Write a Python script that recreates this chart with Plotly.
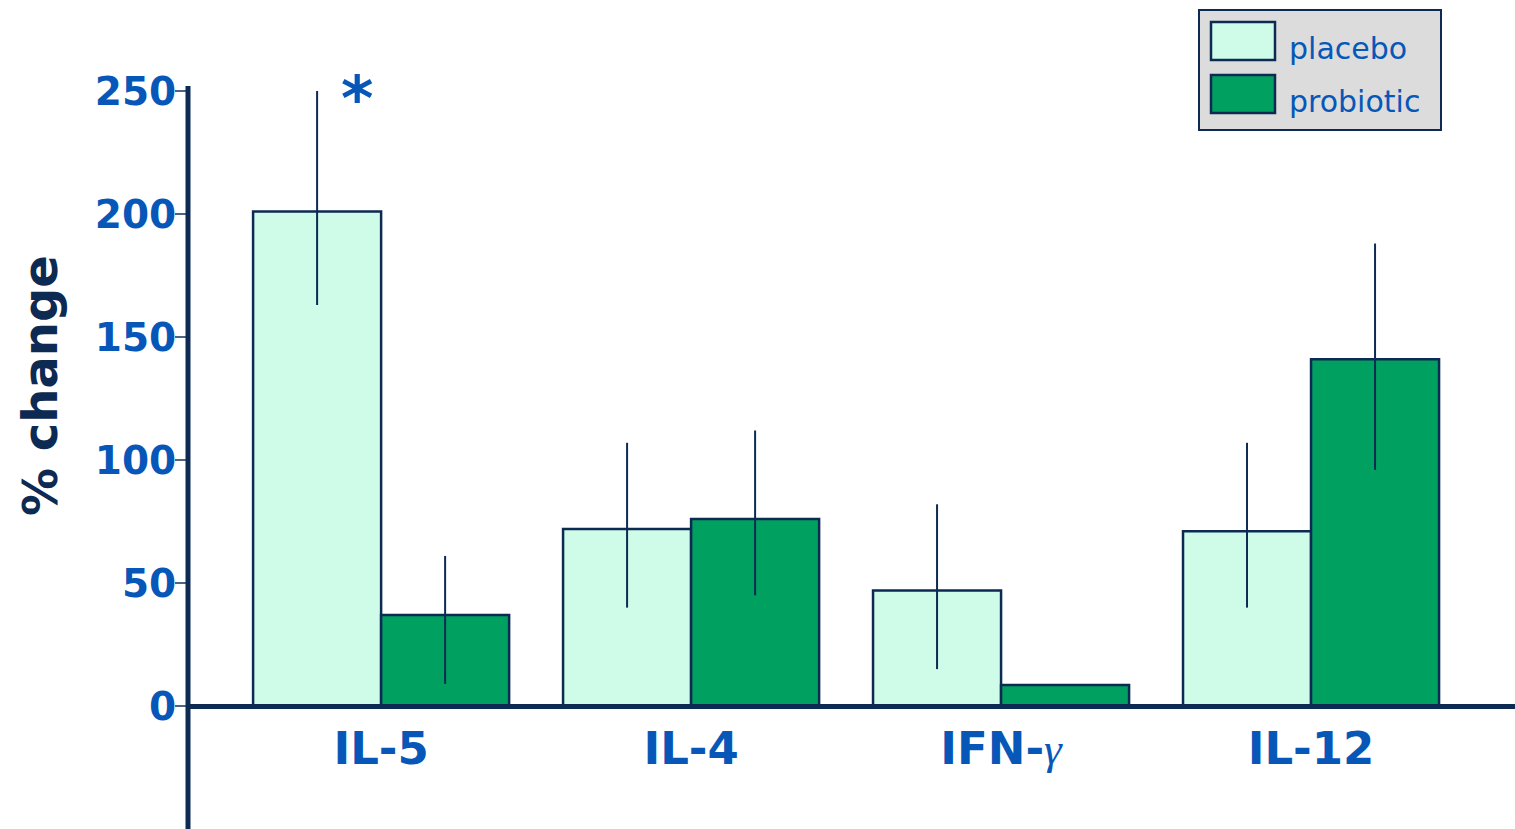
import plotly.graph_objects as go

# Cytokine response, % change from baseline
cytokines = ["IL-5", "IL-4", "IFN-γ", "IL-12"]
tick_text = ["IL-5", "IL-4",
             "IFN-<span style='font-family:Liberation Serif;font-weight:normal'><i>γ</i></span>",
             "IL-12"]

placebo = [201, 72, 47, 71]
placebo_err_plus = [49, 35, 35, 36]
placebo_err_minus = [38, 32, 32, 31]

probiotic = [37, 76, 8.5, 141]
probiotic_err_plus = [24, 36, 0, 47]
probiotic_err_minus = [28, 31, 0, 45]

series_names = ["placebo", "probiotic"]
y_ticks = [0, 50, 100, 150, 200, 250]

NAVY = "#0c2a52"
BLUE = "#0757b8"
MINT = "#cffbe9"
GREEN = "#00a060"

W, H = 1515, 829
ML = 188
PW = W - ML

fig = go.Figure()

for name, vals, ep, em, color in [
    (series_names[0], placebo, placebo_err_plus, placebo_err_minus, MINT),
    (series_names[1], probiotic, probiotic_err_plus, probiotic_err_minus, GREEN),
]:
    fig.add_trace(go.Bar(
        x=cytokines, y=vals, name=name,
        marker=dict(color=color, line=dict(color=NAVY, width=2.5)),
        error_y=dict(type="data", symmetric=False, array=ep, arrayminus=em,
                     color=NAVY, thickness=2, width=0),
        showlegend=False,
    ))

y_min, y_max = -50, 287
zero_frac = (0 - y_min) / (y_max - y_min)

fig.update_layout(
    width=W, height=H,
    margin=dict(l=ML, r=0, t=0, b=0),
    paper_bgcolor="white", plot_bgcolor="white",
    barmode="group", bargap=0.174, bargroupgap=0,
    font=dict(family="DejaVu Sans", color=BLUE),
    xaxis=dict(
        type="category", range=[-0.623, 3.658],
        tickvals=cytokines, ticktext=tick_text,
        tickfont=dict(size=45, family="DejaVu Sans", color=BLUE, weight="bold"),
        anchor="free", position=zero_frac,
        showline=True, linewidth=5, linecolor=NAVY,
        ticks="outside", ticklen=1, tickcolor="rgba(0,0,0,0)",
        showgrid=False, zeroline=False,
    ),
    yaxis=dict(
        range=[y_min, y_max],
        tickvals=y_ticks,
        tickfont=dict(size=39, family="DejaVu Sans", color=BLUE, weight="bold"),
        ticks="outside", ticklen=12, tickwidth=1.5, tickcolor="#4a6585",
        ticklabelstandoff=-9,
        showline=False, showgrid=False, zeroline=False,
    ),
)

# vertical axis line, running from just above the top tick to the bottom edge
fig.add_shape(type="line", xref="paper", yref="y",
              x0=0, x1=0, y0=y_min, y1=252, line=dict(color=NAVY, width=5))

# rotated axis title
fig.add_annotation(text="% change", textangle=-90, showarrow=False,
                   xref="paper", yref="paper",
                   x=(40 - ML) / PW, y=1 - 386 / H,
                   xanchor="center", yanchor="middle",
                   font=dict(size=48, family="DejaVu Sans", color=NAVY, weight="bold"))

# significance marker over IL-5
fig.add_annotation(text="*", showarrow=False, xref="x", yref="y",
                   x=cytokines[0], y=247, xshift=-24, yanchor="middle",
                   font=dict(size=62, family="DejaVu Sans", color=BLUE, weight="bold"))


def px(xp):
    return (xp - ML) / PW


def py(yp):
    return 1 - yp / H


# legend panel
fig.add_shape(type="rect", xref="paper", yref="paper",
              x0=px(1199), x1=px(1441), y0=py(130), y1=py(10),
              fillcolor="#dcdcdc", line=dict(color=NAVY, width=2))
for i, (name, color) in enumerate(zip(series_names, [MINT, GREEN])):
    top = 22 + i * 53
    fig.add_shape(type="rect", xref="paper", yref="paper",
                  x0=px(1211), x1=px(1275), y0=py(top + 38), y1=py(top),
                  fillcolor=color, line=dict(color=NAVY, width=2.5))
    fig.add_annotation(text=name, showarrow=False, xref="paper", yref="paper",
                       x=px(1287), y=py(top + 26), xanchor="left", yanchor="middle",
                       font=dict(size=30, family="DejaVu Sans", color=BLUE))

fig.write_html("out.html")
